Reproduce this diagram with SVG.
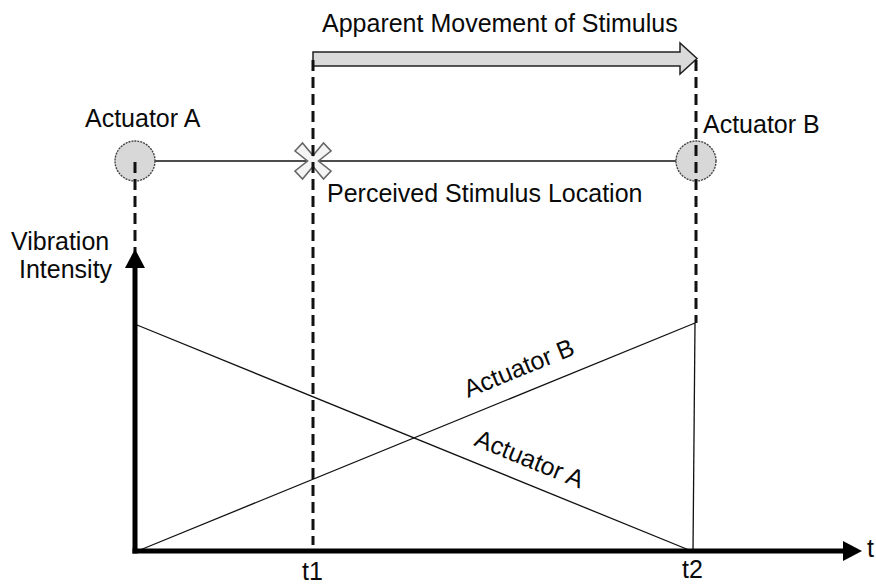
<svg xmlns="http://www.w3.org/2000/svg" width="876" height="585" viewBox="0 0 876 585">
<style>
text{font-family:"Liberation Sans",Arial,sans-serif;font-size:25px;fill:#0a0a0a}
.dash{stroke:#111;stroke-width:3;stroke-dasharray:11 6;fill:none}
.thin{stroke:#111;stroke-width:1.3;fill:none}
.axis{stroke:#000;stroke-width:5;fill:none}
.act{fill:#d8d8d8;stroke:#444;stroke-width:1.4;stroke-dasharray:2 1}
</style>
<rect width="876" height="585" fill="#fff"/>
<g id="movement-arrow">
<path d="M313,52 H680 V43 L697,58.5 L680,74 V66 H313 Z" fill="#dadada" stroke="#222" stroke-width="1.5"/>
<text x="322" y="32">Apparent Movement of Stimulus</text>
</g>
<g id="connectors">
<line class="thin" x1="155" y1="161" x2="676" y2="161"/>
<line class="thin" x1="137" y1="325" x2="689" y2="550"/>
<line class="thin" x1="140" y1="550" x2="695" y2="323"/>
<line class="thin" x1="695" y1="323" x2="693" y2="551"/>
</g>
<g id="actuator-a">
<circle class="act" cx="135" cy="161" r="20"/>
<text x="85" y="127">Actuator A</text>
</g>
<g id="actuator-b">
<circle class="act" cx="696" cy="161" r="20"/>
<text x="703" y="133">Actuator B</text>
</g>
<g id="perceived">
<polygon points="295,151 302.5,143 313,155.5 323.5,143 331,151 318.5,161 331,171 323.5,179 313,166.5 302.5,179 295,171 307.5,161" fill="#f4f4f4" stroke="#666" stroke-width="1.6"/>
<text x="327" y="202">Perceived Stimulus Location</text>
</g>
<g id="dashes">
<line class="dash" x1="135" y1="162" x2="135" y2="252"/>
<line class="dash" x1="313" y1="60" x2="313" y2="545"/>
<line class="dash" x1="696" y1="60" x2="696" y2="323"/>
</g>
<g id="axes">
<line class="axis" x1="135" y1="553.5" x2="135" y2="265"/>
<polygon points="135,249 125,268 145,268" fill="#000"/>
<line class="axis" x1="132.5" y1="551" x2="845" y2="551"/>
<polygon points="862,551 843,541 843,561" fill="#000"/>
<text x="11" y="250">Vibration</text>
<text x="19" y="278">Intensity</text>
<text x="302" y="580">t1</text>
<text x="682" y="578">t2</text>
<text x="867" y="557">t</text>
</g>
<g id="labels">
<text transform="translate(468,398) rotate(-22.2)">Actuator B</text>
<text transform="translate(473,445) rotate(22.2)">Actuator A</text>
</g>
</svg>
